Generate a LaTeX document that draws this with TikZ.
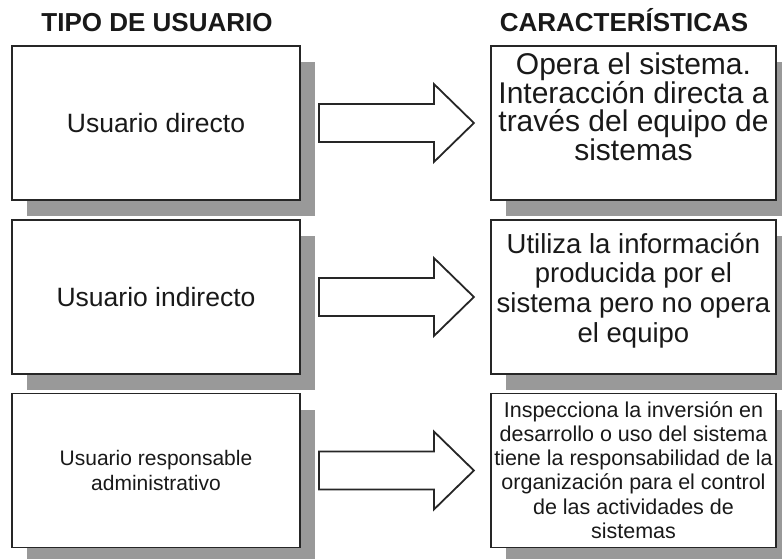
\documentclass[tikz,border=0pt]{standalone}
\usepackage{fontspec}
\setmainfont{Liberation Sans}
\usetikzlibrary{shadows}

\tikzset{
    cajabase/.style={draw=black!85, line width=1.8pt, fill=white, inner sep=0pt,
        minimum height=154pt,
        drop shadow={shadow xshift=15pt, shadow yshift=-16pt, fill=black!40, opacity=1}},
    cajatipo/.style={cajabase, minimum width=288pt},
    cajacarac/.style={cajabase, minimum width=285pt},
    titulo/.style={font=\bfseries\fontsize{26}{30}\selectfont, inner sep=0pt, text=black!90},
    texto/.style={inner sep=0pt, align=center, text=black!90},
    flecha/.style={draw=black!85, line width=1.8pt, fill=white, line join=miter},
}

\begin{document}
\begin{tikzpicture}[x=1pt, y=1pt]
    \useasboundingbox (0,0) rectangle (782,558);
    % Column titles
    \node[titulo, anchor=base] (titA) at (157,526) {TIPO DE USUARIO};
    \node[titulo, anchor=base] (titB) at (624,526) {CARACTERÍSTICAS};
    % Boxes, one row per user type
    \node[cajatipo]  (tipo1)  at (156,435)   {};
    \node[cajatipo]  (tipo2)  at (156,261)   {};
    \node[cajatipo]  (tipo3)  at (156,87.5)  {};
    \node[cajacarac] (carac1) at (633.5,435)  {};
    \node[cajacarac] (carac2) at (633.5,261)  {};
    \node[cajacarac] (carac3) at (633.5,87.5) {};
    % Texts
    \node[texto, font=\fontsize{26.5}{30}\selectfont] (txtT1) at (tipo1) {Usuario directo};
    \node[texto, font=\fontsize{26.5}{30}\selectfont] (txtT2) at (tipo2) {Usuario indirecto};
    \node[texto, font=\fontsize{21}{25}\selectfont] (txtT3) at (tipo3) {Usuario responsable\\administrativo};
    \node[texto, font=\fontsize{30}{28.5}\selectfont] (txtC1) at (633.5,451)
        {Opera el sistema.\\Interacción directa a\\través del equipo de\\sistemas};
    \node[texto, font=\fontsize{27.5}{29.7}\selectfont] (txtC2) at (633.5,267.5)
        {Utiliza la información\\producida por el\\sistema pero no opera\\el equipo};
    \node[texto, font=\fontsize{21.5}{24.2}\selectfont] (txtC3) at (633.5,88)
        {Inspecciona la inversión en\\desarrollo o uso del sistema\\tiene la responsabilidad de la\\organización para el control\\de las actividades de\\sistemas};
    % Block arrows between the columns
    \foreach \i in {1,2,3} {
        \coordinate (ini\i) at ([xshift=18pt]tipo\i.east);
        \draw[flecha] ([yshift=19pt]ini\i) -- ++(115,0) -- ++(0,20) -- ++(40,-39)
            -- ++(-40,-39) -- ++(0,20) -- ++(-115,0) -- cycle;
    }
\end{tikzpicture}
\end{document}
